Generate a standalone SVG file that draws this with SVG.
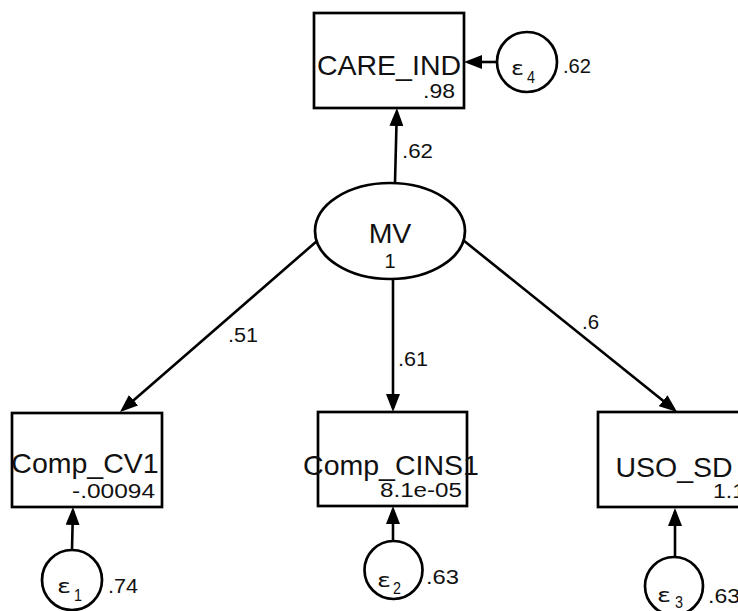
<svg xmlns="http://www.w3.org/2000/svg" width="738" height="611" viewBox="0 0 738 611">
<style>
.box{fill:#fff;stroke:#000;stroke-width:2.7}
.lbl{font-family:"Liberation Sans",Arial,sans-serif;font-size:28.5px;fill:#111;text-anchor:middle}
.num{font-family:"Liberation Sans",Arial,sans-serif;font-size:20px;fill:#111}
.eps{font-family:"DejaVu Sans","Liberation Sans",sans-serif;font-size:19px;fill:#111}
.sub{font-family:"Liberation Sans",Arial,sans-serif;font-size:16px;fill:#111}
.edge{stroke:#000;stroke-width:2.6;fill:none;marker-end:url(#ah)}
</style>
<defs>
<marker id="ah" markerUnits="userSpaceOnUse" viewBox="0 0 18 14" refX="14" refY="7" markerWidth="18" markerHeight="14" orient="auto">
<path d="M0,0 L18,7 L0,14 z" fill="#000"/>
</marker>
</defs>
<rect width="738" height="611" fill="#fff"/>
<g id="connectors">
<line class="edge" x1="497" y1="62" x2="468" y2="62"/>
<line class="edge" x1="395" y1="183" x2="396.8" y2="112"/>
<line class="edge" x1="317" y1="241" x2="123" y2="409.4"/>
<line class="edge" x1="393" y1="278" x2="393" y2="408"/>
<line class="edge" x1="463" y1="240" x2="674" y2="409.5"/>
<line class="edge" x1="72" y1="550" x2="72.9" y2="511"/>
<line class="edge" x1="393" y1="540" x2="393" y2="510"/>
<line class="edge" x1="675" y1="557" x2="675" y2="512"/>
<text class="num" x="402" y="158" textLength="31" lengthAdjust="spacingAndGlyphs">.62</text>
<text class="num" x="228" y="342" textLength="30" lengthAdjust="spacingAndGlyphs">.51</text>
<text class="num" x="398" y="366" textLength="30" lengthAdjust="spacingAndGlyphs">.61</text>
<text class="num" x="582" y="329" textLength="17" lengthAdjust="spacingAndGlyphs">.6</text>
</g>
<g id="CARE_IND">
<rect class="box" x="314" y="13" width="150" height="95"/>
<text class="lbl" x="389" y="75">CARE_IND</text>
<text class="num" x="423" y="98" textLength="32" lengthAdjust="spacingAndGlyphs">.98</text>
</g>
<g id="e4">
<circle class="box" cx="527" cy="62" r="30"/>
<text class="eps" x="511" y="75" textLength="13" lengthAdjust="spacingAndGlyphs">ε</text>
<text class="sub" x="527" y="83" textLength="8" lengthAdjust="spacingAndGlyphs">4</text>
<text class="num" x="563" y="73" textLength="28" lengthAdjust="spacingAndGlyphs">.62</text>
</g>
<g id="MV">
<ellipse class="box" cx="390" cy="231" rx="75" ry="48"/>
<text class="lbl" x="390" y="243">MV</text>
<text class="num" x="390" y="268" text-anchor="middle">1</text>
</g>
<g id="Comp_CV1">
<rect class="box" x="12" y="413" width="150" height="94"/>
<text class="lbl" x="85" y="473">Comp_CV1</text>
<text class="num" x="72" y="498" textLength="83" lengthAdjust="spacingAndGlyphs">-.00094</text>
</g>
<g id="Comp_CINS1">
<rect class="box" x="318" y="412" width="149" height="94"/>
<text class="lbl" x="391" y="475">Comp_CINS1</text>
<text class="num" x="380" y="497" textLength="82" lengthAdjust="spacingAndGlyphs">8.1e-05</text>
</g>
<g id="USO_SD">
<rect class="box" x="598" y="412" width="150" height="95"/>
<text class="lbl" x="674" y="477">USO_SD</text>
<text class="num" x="713" y="498" textLength="32" lengthAdjust="spacingAndGlyphs">1.1</text>
</g>
<g id="e1">
<circle class="box" cx="72" cy="580" r="30"/>
<text class="eps" x="57" y="593" textLength="14" lengthAdjust="spacingAndGlyphs">ε</text>
<text class="sub" x="74" y="601" textLength="8" lengthAdjust="spacingAndGlyphs">1</text>
<text class="num" x="108" y="593" textLength="30" lengthAdjust="spacingAndGlyphs">.74</text>
</g>
<g id="e2">
<circle class="box" cx="393.5" cy="570" r="29"/>
<text class="eps" x="377" y="587" textLength="14" lengthAdjust="spacingAndGlyphs">ε</text>
<text class="sub" x="393" y="594" textLength="8" lengthAdjust="spacingAndGlyphs">2</text>
<text class="num" x="426" y="584" textLength="33" lengthAdjust="spacingAndGlyphs">.63</text>
</g>
<g id="e3">
<circle class="box" cx="674" cy="586" r="29"/>
<text class="eps" x="657" y="602" textLength="14" lengthAdjust="spacingAndGlyphs">ε</text>
<text class="sub" x="675" y="608" textLength="8" lengthAdjust="spacingAndGlyphs">3</text>
<text class="num" x="708" y="603" textLength="32" lengthAdjust="spacingAndGlyphs">.63</text>
</g>
</svg>
